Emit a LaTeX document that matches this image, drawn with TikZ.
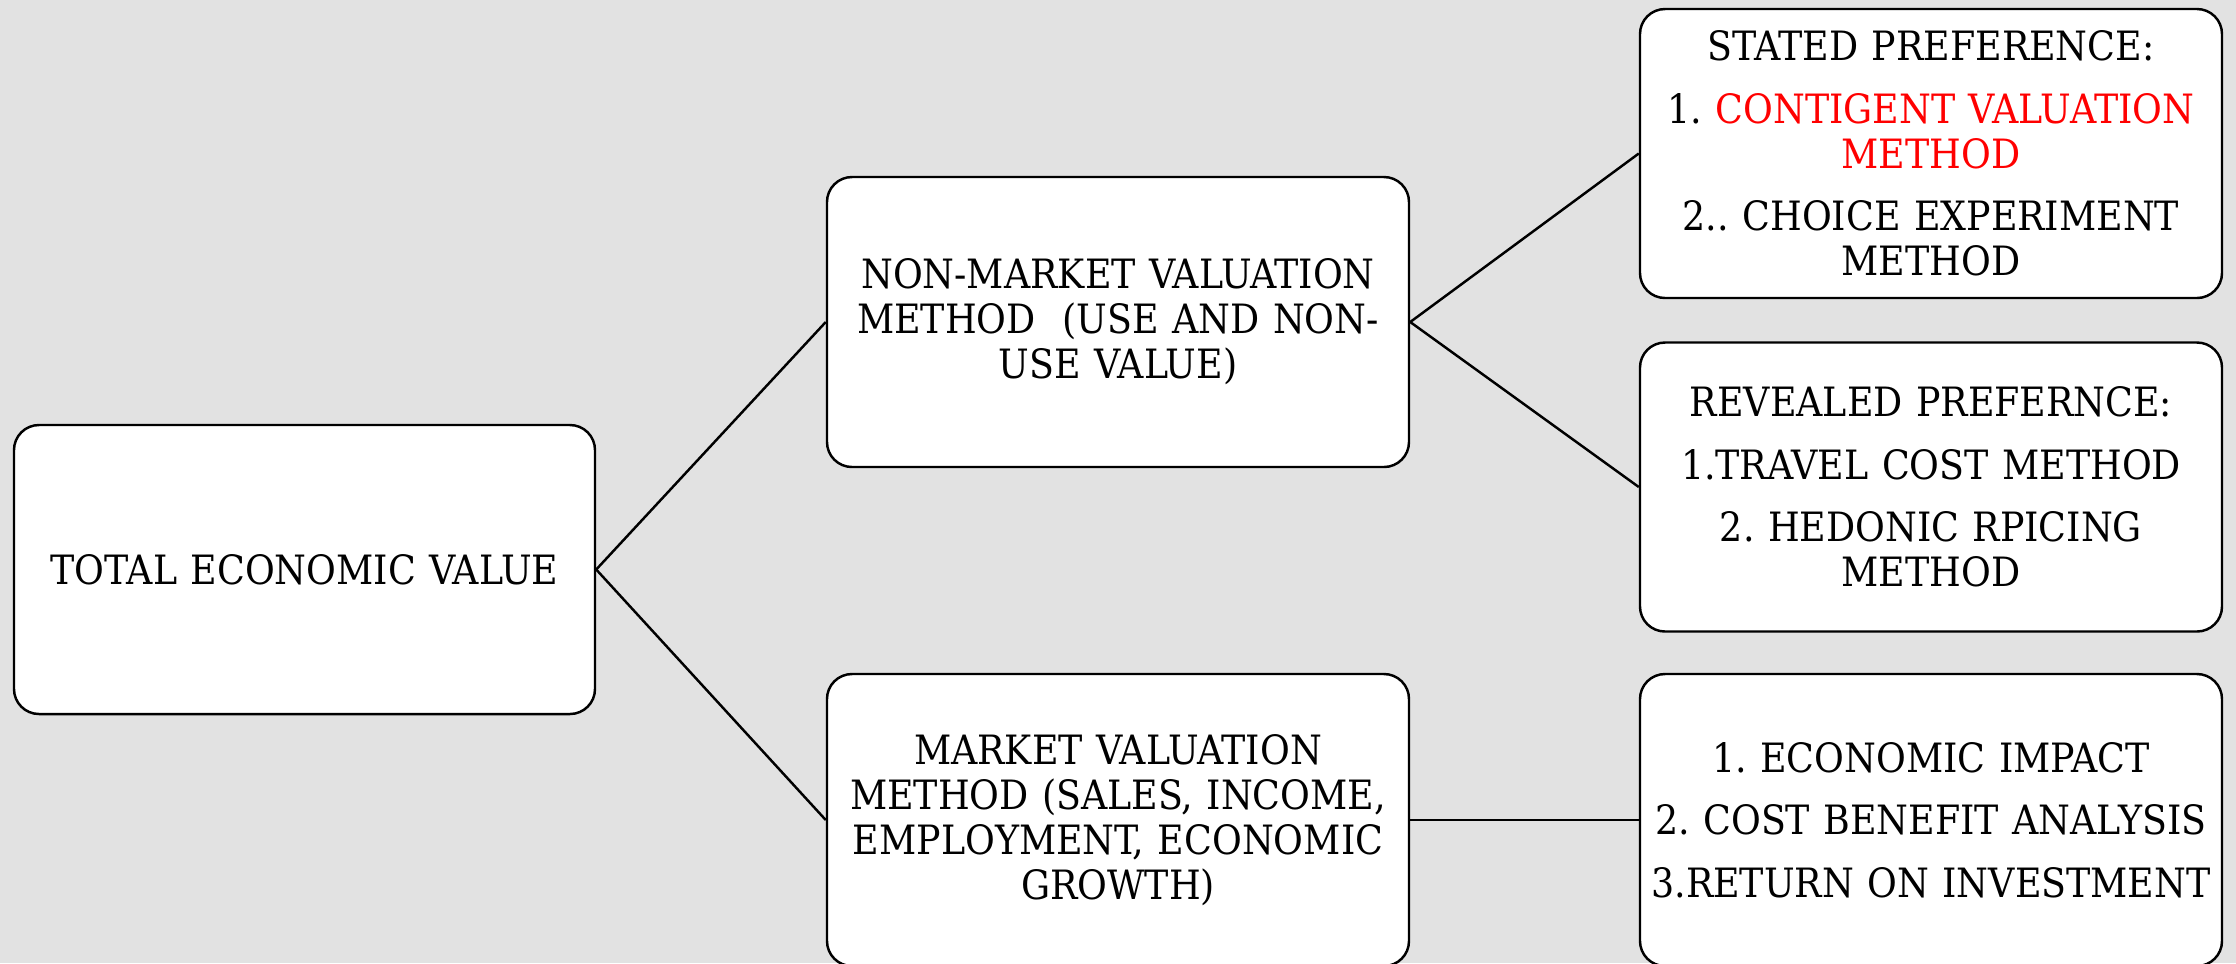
\documentclass[tikz,border=0pt]{standalone}
\usepackage{fontspec}
\setmainfont{DejaVu Serif Condensed}
\definecolor{bggray}{RGB}{226,226,226}
\frenchspacing

\begin{document}
\begin{tikzpicture}[
    valbox/.style={draw=black, fill=white, line width=0.7pt, rounded corners=0.25cm,
        minimum width=5.82cm, minimum height=2.9cm, text width=5.6cm, align=center,
        inner sep=0pt, font=\fontsize{11.5}{12.8}\selectfont},
    link/.style={draw=black, line width=0.7pt}]
                \fill[bggray] (0,0) rectangle (22.36,-9.63);
                \useasboundingbox (0,0) rectangle (22.36,-9.63);
                \node[valbox, minimum width=5.81cm, minimum height=2.89cm] (tev) at (3.045,-5.695) {TOTAL ECONOMIC VALUE};
                \node[valbox] (nonmkt) at (11.18,-3.22) {NON-MARKET VALUATION\\ METHOD~~(USE AND NON-\\ USE VALUE)};
                \node[valbox, minimum height=2.92cm] (mkt) at (11.18,-8.20) {MARKET VALUATION\\ METHOD (SALES, INCOME,\\ EMPLOYMENT, ECONOMIC\\ GROWTH)};
                \node[valbox, minimum height=2.89cm] (stated) at (19.31,-1.535) {STATED PREFERENCE:\\[5pt] 1. \textcolor{red}{CONTIGENT VALUATION}\\ \textcolor{red}{METHOD}\\[5pt] 2.. CHOICE EXPERIMENT\\ METHOD};
                \node[valbox, minimum height=2.89cm] (revealed) at (19.31,-4.87) {REVEALED PREFERNCE:\\[5pt] 1.TRAVEL COST METHOD\\[5pt] 2. HEDONIC RPICING\\ METHOD};
                \node[valbox, minimum height=2.92cm] (impact) at (19.31,-8.20) {1. ECONOMIC IMPACT\\[5pt] 2. COST BENEFIT ANALYSIS\\[5pt] 3.RETURN ON INVESTMENT};
                \draw[link] (tev.east) -- (nonmkt.west);
                \draw[link] (tev.east) -- (mkt.west);
                \draw[link] (nonmkt.east) -- (stated.west);
                \draw[link] (nonmkt.east) -- (revealed.west);
                \draw[link] (mkt.east) -- (impact.west);
            \end{tikzpicture}
\end{document}
